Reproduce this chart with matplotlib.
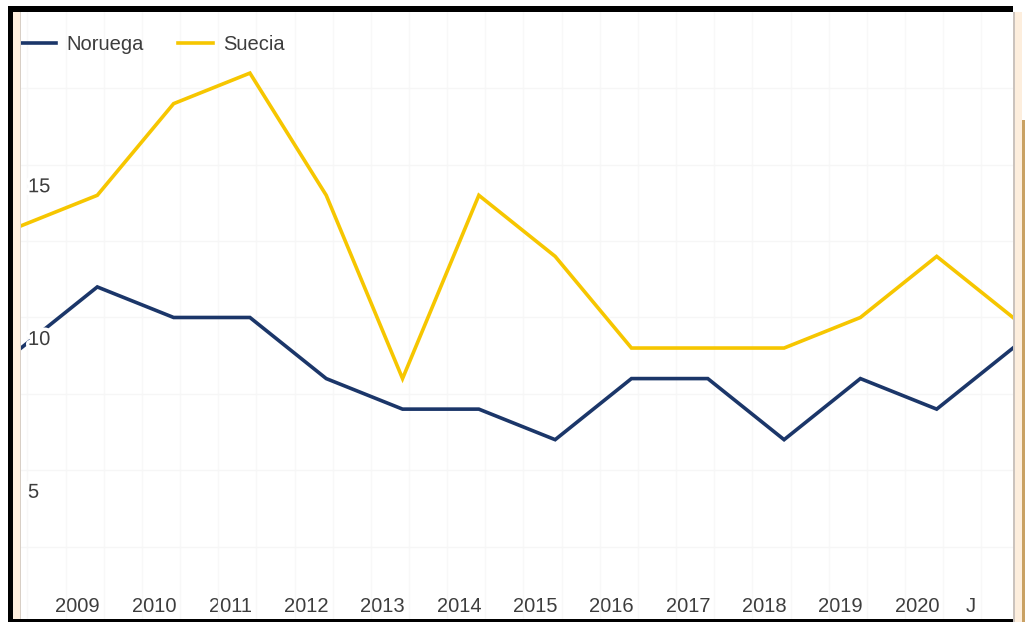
import numpy as np
import matplotlib
matplotlib.use("Agg")
import matplotlib.pyplot as plt
import matplotlib.patheffects as pe
from matplotlib.patches import Rectangle

# datos
years = [2008, 2009, 2010, 2011, 2012, 2013, 2014, 2015, 2016, 2017, 2018, 2019, 2020, 2021]
noruega = [9, 11, 10, 10, 8, 7, 7, 6, 8, 8, 6, 8, 7, 9]
suecia = [13, 14, 17, 18, 14, 8, 14, 12, 9, 9, 9, 10, 12, 10]
year_labels = ["2009", "2010", "2011", "2012", "2013", "2014", "2015", "2016",
               "2017", "2018", "2019", "2020"]
y_labels = [5, 10, 15]

navy = "#1b3669"
yellow = "#f6c600"
txt = "#3d3d3d"
fs = 14.5

plt.rcParams['font.family'] = ['Liberation Sans Narrow', 'Liberation Sans', 'DejaVu Sans']

W, H = 1025, 622
fig = plt.figure(figsize=(W / 100, H / 100), dpi=100)
fig.patch.set_facecolor("white")

def px_rect(x0, y0, x1, y1, color, z=5):
    # rectangle in pixel coords (origin top-left)
    fig.patches.append(Rectangle((x0 / W, 1 - y1 / H), (x1 - x0) / W, (y1 - y0) / H,
                                 transform=fig.transFigure, color=color, zorder=z, lw=0))

ax = fig.add_axes([21 / W, 3 / H, (1013 - 21) / W, (619 - 12) / H])
ax.set_facecolor("white")

ax.plot(years, noruega, color=navy, lw=2.6, label="Noruega", solid_joinstyle="miter", zorder=3)
ax.plot(years, suecia, color=yellow, lw=2.6, label="Suecia", solid_joinstyle="miter", zorder=3)

ax.set_xlim(2008, 2021)
ax.set_ylim(0.13, 20.0)

# rejilla
ax.set_xticks(np.arange(2008.085, 2021, 0.5), minor=True)
ax.set_xticks([y - 0.26 for y in range(2009, 2021)])
ax.set_xticklabels(year_labels)
ax.set_yticks(np.arange(2.5, 20, 2.5))
ax.set_yticklabels([])
ax.grid(False)
ax.grid(True, which="minor", axis="x", color="#f8f8f8", lw=1)
ax.grid(True, which="major", axis="y", color="#f6f6f6", lw=1)
ax.tick_params(axis="x", which="both", length=0, pad=-16, labelsize=fs, labelcolor=txt)
ax.tick_params(axis="y", which="both", length=0)
for s in ax.spines.values():
    s.set_visible(False)

# etiqueta suelta al final del eje
ax.annotate("J", xy=(2020.44, 0), xycoords=("data", "axes fraction"),
            xytext=(0, 16), textcoords="offset points",
            ha="center", va="top", fontsize=fs, color=txt)
for v in y_labels:
    ax.annotate(str(v), xy=(0, v), xycoords=("axes fraction", "data"),
                xytext=(5, -9), textcoords="offset points",
                ha="left", va="top", fontsize=fs, color=txt, zorder=4,
                path_effects=[pe.withStroke(linewidth=5, foreground="white")])

ax.legend(loc="upper left", bbox_to_anchor=(0, 0.962), ncol=2, frameon=False,
          fontsize=fs, labelcolor=txt, borderpad=0, borderaxespad=0,
          handlelength=1.75, handletextpad=0.5, columnspacing=1.7)

# marco de la captura
px_rect(8, 6, 1013, 12, "black")
px_rect(8, 6, 13, 622, "black")
px_rect(8, 619, 1013, 622, "black")
px_rect(13, 12, 21, 619, "#fdeedd")
px_rect(20, 12, 21, 619, "#d8cfc6")
px_rect(1013, 12, 1015, 622, "#cbc3bd")
px_rect(1015, 12, 1022, 622, "#fdeedd")
px_rect(1022, 120, 1025, 622, "#c9a163")

fig.savefig("out.png", dpi=100)
